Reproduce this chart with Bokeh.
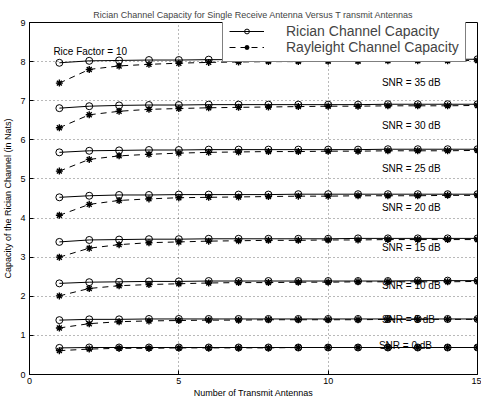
from bokeh.plotting import figure
from bokeh.models import Range1d, FixedTicker, Legend, LegendItem, ColumnDataSource
from bokeh.core.properties import value
from bokeh.embed import file_html
from bokeh.resources import INLINE

antennas = list(range(1, 16))

snr_labels = ["SNR = 35 dB", "SNR = 30 dB", "SNR = 25 dB", "SNR = 20 dB",
              "SNR = 15 dB", "SNR = 10 dB", "SNR = 5 dB", "SNR = 0 dB"]

rician_35 = [7.97, 8.02, 8.03, 8.04, 8.04, 8.05, 8.05, 8.05, 8.05, 8.05, 8.05, 8.06, 8.06, 8.06, 8.06]
rician_30 = [6.81, 6.86, 6.88, 6.89, 6.89, 6.90, 6.90, 6.90, 6.90, 6.90, 6.90, 6.91, 6.91, 6.91, 6.91]
rician_25 = [5.68, 5.72, 5.73, 5.74, 5.74, 5.75, 5.75, 5.75, 5.75, 5.75, 5.75, 5.76, 5.76, 5.76, 5.76]
rician_20 = [4.53, 4.57, 4.59, 4.59, 4.60, 4.60, 4.60, 4.60, 4.61, 4.61, 4.61, 4.61, 4.61, 4.61, 4.61]
rician_15 = [3.39, 3.44, 3.45, 3.46, 3.46, 3.47, 3.47, 3.47, 3.47, 3.47, 3.48, 3.48, 3.48, 3.48, 3.48]
rician_10 = [2.33, 2.36, 2.37, 2.38, 2.38, 2.39, 2.39, 2.39, 2.39, 2.39, 2.39, 2.39, 2.40, 2.40, 2.40]
rician_5 = [1.39, 1.41, 1.41, 1.42, 1.42, 1.42, 1.42, 1.42, 1.42, 1.42, 1.42, 1.42, 1.42, 1.42, 1.42]
rician_0 = [0.68, 0.69, 0.69, 0.69, 0.69, 0.69, 0.69, 0.69, 0.69, 0.69, 0.69, 0.69, 0.69, 0.69, 0.69]

rayleigh_35 = [7.45, 7.80, 7.89, 7.93, 7.96, 7.98, 7.99, 8.00, 8.00, 8.01, 8.01, 8.02, 8.02, 8.02, 8.03]
rayleigh_30 = [6.31, 6.64, 6.73, 6.78, 6.80, 6.82, 6.83, 6.84, 6.85, 6.86, 6.86, 6.87, 6.87, 6.87, 6.88]
rayleigh_25 = [5.20, 5.50, 5.59, 5.63, 5.66, 5.68, 5.69, 5.70, 5.70, 5.71, 5.71, 5.72, 5.72, 5.72, 5.73]
rayleigh_20 = [4.07, 4.35, 4.45, 4.49, 4.52, 4.53, 4.54, 4.55, 4.56, 4.56, 4.57, 4.57, 4.57, 4.58, 4.58]
rayleigh_15 = [3.00, 3.23, 3.32, 3.37, 3.39, 3.41, 3.42, 3.43, 3.43, 3.44, 3.44, 3.45, 3.45, 3.45, 3.45]
rayleigh_10 = [2.01, 2.20, 2.27, 2.30, 2.32, 2.34, 2.35, 2.35, 2.36, 2.36, 2.37, 2.37, 2.37, 2.37, 2.38]
rayleigh_5 = [1.19, 1.30, 1.35, 1.37, 1.38, 1.39, 1.39, 1.40, 1.40, 1.40, 1.40, 1.41, 1.41, 1.41, 1.41]
rayleigh_0 = [0.61, 0.65, 0.67, 0.67, 0.68, 0.68, 0.68, 0.68, 0.69, 0.69, 0.69, 0.69, 0.69, 0.69, 0.69]

rician_series = [rician_35, rician_30, rician_25, rician_20, rician_15, rician_10, rician_5, rician_0]
rayleigh_series = [rayleigh_35, rayleigh_30, rayleigh_25, rayleigh_20, rayleigh_15, rayleigh_10, rayleigh_5, rayleigh_0]

# annotation anchor positions (data coordinates)
snr_label_x = [11.8, 11.8, 11.8, 11.8, 11.8, 11.8, 11.8, 11.7]
snr_label_y = [7.47, 6.37, 5.27, 4.27, 3.25, 2.28, 1.41, 0.74]

x_ticks = [0, 5, 10, 15]
y_ticks = [0, 1, 2, 3, 4, 5, 6, 7, 8, 9]

FONT = "Liberation Sans"
FRAME_H = 352

p = figure(frame_width=448, frame_height=FRAME_H, output_backend="svg", toolbar_location=None,
           x_range=Range1d(0, 15), y_range=Range1d(0, 9),
           title="Rician Channel Capacity for Single Receive Antenna Versus T ransmit Antennas",
           min_border_left=28, min_border_right=4, min_border_top=22, min_border_bottom=0)

p.title.text_font = FONT
p.title.text_font_size = "9px"
p.title.text_font_style = "normal"
p.title.align = "center"
p.title.standoff = 6
p.title.offset = 0

p.outline_line_color = "black"
p.outline_line_alpha = 1
p.outline_line_width = 1
p.background_fill_color = "white"

for ax in p.xaxis + p.yaxis:
    ax.major_label_text_font = FONT
    ax.major_label_text_font_size = "9px"
    ax.axis_label_text_font = FONT
    ax.axis_label_text_font_size = "9px"
    ax.axis_label_text_font_style = "normal"
    ax.major_tick_in = 4
    ax.major_tick_out = 0
    ax.minor_tick_line_color = None
    ax.axis_line_color = "black"
    ax.major_tick_line_color = "black"
    ax.major_label_text_color = "black"
    ax.axis_label_text_color = "black"

p.xaxis.ticker = FixedTicker(ticks=x_ticks)
p.yaxis.ticker = FixedTicker(ticks=y_ticks)
p.xaxis.axis_label = "Number of Transmit Antennas"
p.yaxis.axis_label = "Capacity of the Rician Channel (in Nats)"
p.xaxis.major_label_standoff = 3
p.xaxis.axis_label_standoff = 1
p.yaxis.major_label_standoff = 4
p.yaxis.axis_label_standoff = 4

p.xgrid.ticker = FixedTicker(ticks=x_ticks)
p.ygrid.ticker = FixedTicker(ticks=y_ticks)
for g in (p.xgrid[0], p.ygrid[0]):
    g.grid_line_color = "black"
    g.grid_line_alpha = 0.55
    g.grid_line_dash = "1 3"
    g.grid_line_width = 1

rician_renderers = []
rayleigh_renderers = []
for ric, ray in zip(rician_series, rayleigh_series):
    src_r = ColumnDataSource(dict(x=antennas, y=ric))
    src_y = ColumnDataSource(dict(x=antennas, y=ray))
    l1 = p.line("x", "y", source=src_r, line_color="black", line_width=1)
    m1 = p.scatter("x", "y", source=src_r, marker="circle", size=7,
                   line_color="black", fill_color=None, line_width=1)
    l2 = p.line("x", "y", source=src_y, line_color="black", line_width=1, line_dash="6 5")
    m2 = p.scatter("x", "y", source=src_y, marker="asterisk", size=7,
                   line_color="black", line_width=1.4)
    rician_renderers.append((l1, m1))
    rayleigh_renderers.append((l2, m2))

p.text(x=snr_label_x, y=snr_label_y, text=snr_labels, text_font=value(FONT),
       text_font_size="10px", text_align="left", text_baseline="middle", text_color="black")
p.text(x=[0.8], y=[8.26], text=["Rice Factor = 10"], text_font=value(FONT),
       text_font_size="10px", text_align="left", text_baseline="middle", text_color="black")

LEG_H = 40
legend = Legend(items=[
    LegendItem(label="Rician Channel Capacity", renderers=list(rician_renderers[0])),
    LegendItem(label="Rayleight Channel Capacity", renderers=list(rayleigh_renderers[0])),
], location=(193, FRAME_H - LEG_H))
legend.label_text_font = FONT
legend.label_text_font_size = "14px"
legend.label_text_line_height = 0.8
legend.glyph_width = 35
legend.glyph_height = 12
legend.label_height = 12
legend.label_standoff = 22
legend.spacing = 0
legend.padding = 6
legend.margin = 0
legend.border_line_color = "black"
legend.border_line_width = 1
legend.background_fill_color = "white"
legend.background_fill_alpha = 1
p.add_layout(legend, "center")

open("out.html", "w").write(file_html(p, INLINE))
